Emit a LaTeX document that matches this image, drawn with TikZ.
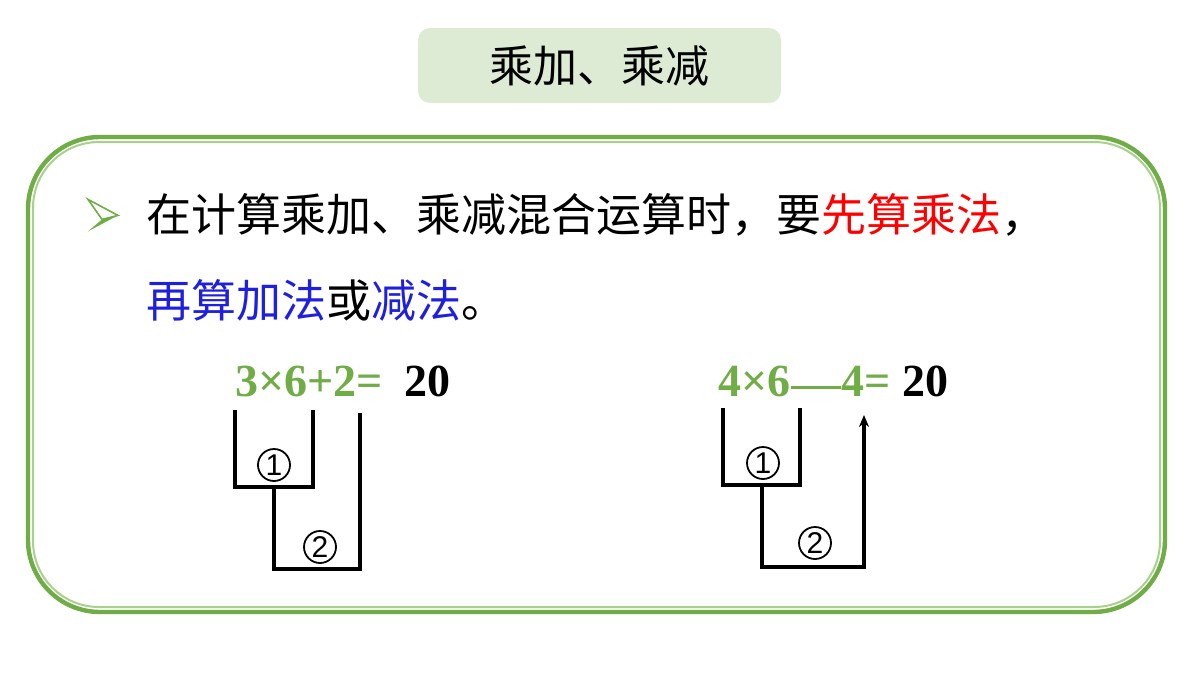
\documentclass[tikz,border=0pt]{standalone}
\usepackage{fontspec}
\usetikzlibrary{arrows.meta}
\newfontfamily\cjk{Noto Sans CJK SC}
\newfontfamily\tnr{Liberation Serif}
\newfontfamily\lsans{Liberation Sans}
\definecolor{gr}{HTML}{70AD47}
\definecolor{grl}{HTML}{A9D18E}
\definecolor{tb}{HTML}{DDEBD5}
\definecolor{bl}{HTML}{1F1FE0}
\tikzset{line/.style={line width=1.6pt,black},circ/.style={circle,draw,line width=0.9pt,minimum size=16pt,inner sep=0pt,font=\lsans\fontsize{15}{15}\selectfont},
eq/.style={font=\tnr\bfseries\fontsize{23}{23}\selectfont,anchor=west,inner sep=0pt}}
\begin{document}
\begin{tikzpicture}[x=0.5pt,y=-0.5pt]
\useasboundingbox (0,0) rectangle (1200,675);
\fill[white] (0,0) rectangle (1200,675);
\node[fill=tb,rounded corners=6pt,minimum width=181.5pt,minimum height=37.5pt] (title) at (599.5,65.5) {\cjk\fontsize{22}{22}\selectfont 乘加、乘减};
\draw[gr,line width=2.2pt,rounded corners=36pt] (28,137) rectangle (1165,612);
\draw[grl,line width=1pt,rounded corners=33pt] (33,142) rectangle (1160,607);
\node[inner sep=0pt] (bul) at (103,215) {\tikz[x=0.5pt,y=-0.5pt]{\draw[gr,line width=0.8pt,fill=white] (0,0)--(30,16)--(14,20)--cycle;\fill[gr](0,32)--(30,16)--(14,20)--cycle;}};
\node[anchor=west,inner sep=0pt] (l1) at (146,215) {\cjk\fontsize{22.5}{22.5}\selectfont 在计算乘加、乘减混合运算时，要\textcolor{red}{先算乘法}，};
\node[anchor=west,inner sep=0pt] (l2) at (146,300) {\cjk\fontsize{22.5}{22.5}\selectfont \textcolor{bl}{再算加法}或\textcolor{bl}{减法}。};
\node[eq,text=gr] (e1) at (235,381) {3×6+2=};
\node[eq] (r1) at (404,381) {20};
\node[eq,text=gr] (e2) at (718,381) {4×6\raisebox{0.33ex}{\rule{1.1em}{1.6pt}}4=};
\node[eq] (r2) at (902,381) {20};
% left bracket
\draw[line] (235,410)--(235,487)--(313,487)--(313,410);
\draw[line] (274,487)--(274,569)--(360,569)--(360,413);
\node[circ] (c1) at (274,465) {1};
\node[circ] (c2) at (320,547) {2};
% right bracket
\draw[line] (723,408)--(723,485)--(800,485)--(800,408);
\draw[line,-{Stealth[length=6pt,width=5pt]}] (762,485)--(762,567)--(864,567)--(864,415);
\node[circ] (c3) at (763,463) {1};
\node[circ] (c4) at (815,543) {2};
\end{tikzpicture}
\end{document}
